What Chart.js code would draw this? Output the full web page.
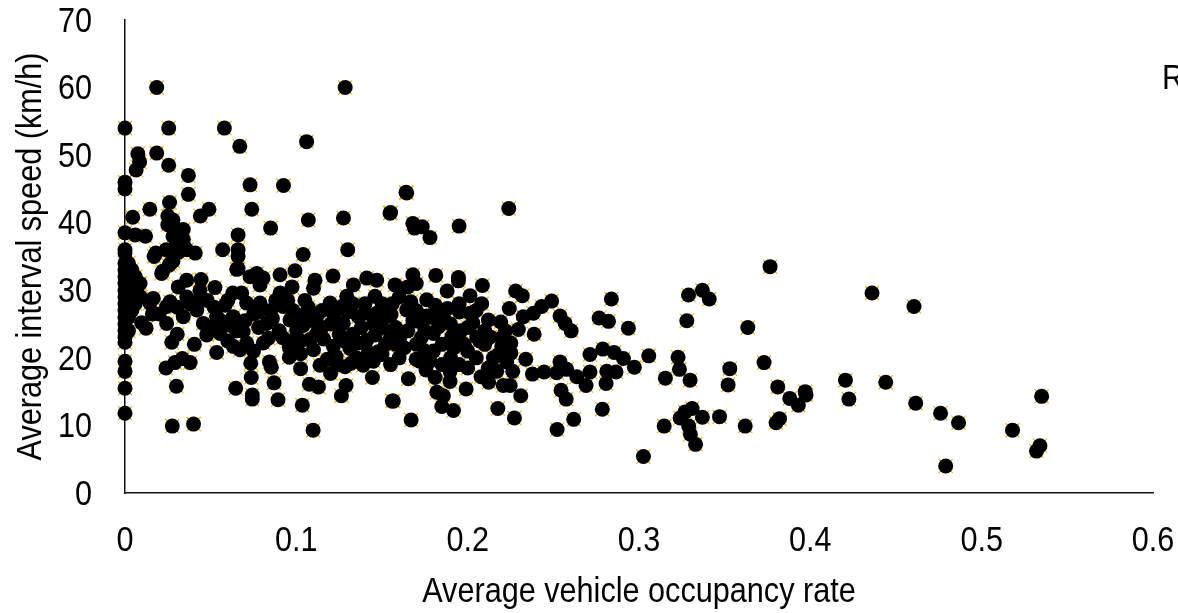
<!DOCTYPE html>
<html><head><meta charset="utf-8">
<style>html,body{margin:0;padding:0;background:#fff;overflow:hidden;width:1178px;height:613px}
#w{position:relative;width:1178px;height:613px;overflow:hidden}
canvas{display:block}
#r{position:absolute;left:1162px;top:57px;font:35px "Liberation Sans",sans-serif;color:#000;line-height:40px;transform:scaleX(.875);transform-origin:left top}</style>
<script src="https://cdn.jsdelivr.net/npm/chart.js@4"></script></head>
<body><div id="w"><canvas id="c" width="1178" height="613"></canvas><div id="r">R</div></div>
<script>
const xTicks=[0,0.1,0.2,0.3,0.4,0.5,0.6];
const yTicks=[0,10,20,30,40,50,60,70];
const xTitle="Average vehicle occupancy rate";
const yTitle="Average interval speed (km/h)";
const upperPoints=[[.0185,60],[.1285,60],[0,54],[.0255,54],[.058,54],[.106,52],[.067,51.3],[.0075,50.2],[.0185,50.3],[.0085,49],[.0255,48.5],[.0065,47.8],[.037,47],[0,46],[0,45],[.073,45.6],[.0925,45.5],[.164,44.5],[.037,44.2],[.026,43],[.049,42],[.0145,42],[.074,42],[.224,42.1],[.155,41.5],[.044,41],[.0045,40.8],[.025,41],[.107,40.4],[.1275,40.7],[.168,39.9],[.169,39.2],[.1735,39.4],[.195,39.5],[.085,39.2],[.034,39],[0,38.5],[.006,38.2],[.012,38],[.028,38],[.066,38.2],[.178,37.8],[.034,37.5],[.0345,36.5],[.036,36],[.13,36],[0,36],[.018,35.5],[.024,36],[0,35.5],[.041,35.5],[.057,36],[.066,36],[.104,35.3],[.017,35],[.028,34.3],[.066,35],[.0265,34],[.066,33.2],[.022,32.8],[.03,39],[.03,37.3],[.032,36.3],[.025,39.7],[.028,40.4],[.031,35.6]];
const axisColumn=[[0,11.8],[0,15.5],[0,18],[0,19.5],[0,22.3],[0,23],[0,24],[0,25],[0,26],[0,27],[0,28],[0,29],[0,30],[0,31],[0,32],[0,33],[0,34],[.002,24],[.002,26],[.002,28],[.002,30],[.002,32],[.002,34],[.004,27],[.004,29],[.004,31],[.004,33],[.006,28],[.006,30],[.006,32],[.008,31],[.009,29]];
const leftCluster=[[.0276,9.9],[.04,10.2],[.1098,9.3],[.03,15.8],[.0646,15.5],[.0743,14.5],[.0743,13.9],[.0893,13.8],[.1035,13],[.156,13.6],[.0737,17.1],[.087,16.3],[.0734,19.2],[.0843,19.4],[.0854,18.6],[.0959,20.1],[.1025,18.4],[.1138,18.9],[.1076,16.1],[.1129,15.7],[.12,17.7],[.129,15.9],[.1263,14.4],[.1444,17.1],[.1284,18.7],[.139,18.9],[.1232,20.2],[.0535,20.8],[.0405,22],[.0273,22.3],[.0305,23.5],[.0239,18.5],[.0292,19.3],[.0335,19.9],[.038,19.3],[.0123,24.4],[.0097,25.2],[.0671,21.2],[.0632,21.7],[.071,22.2],[.0807,22.2],[.0837,22.9],[.11,21.2],[.1025,20.6],[.0652,33.1],[.0214,32.5],[.0257,33.7],[.1214,32.1],[.1109,31.5],[.0992,32.9],[.0905,32.3],[.0769,32.5],[.073,32],[.0806,31.8],[.0788,30.8],[.036,31.5],[.0444,31.6],[.0311,30.5],[.0525,30.4],[.0438,30],[.036,29],[.0681,29.6],[.0629,29.6],[.0584,27.8],[.0165,28.8],[.0088,31],[.0263,28.3],[.0905,29.6],[.0975,30.5],[.11,30.3],[.1197,28.1],[.1333,30.8],[.1411,31.8],[.1469,31.5],[.1576,30.8],[.1459,29.1],[.1294,29.1],[.1265,27.6],[.1362,26.1],[.1274,25.1],[.1553,26.4],[.1469,26.6],[.1411,22.6],[.1477,20.9],[.1313,21.4],[.1216,21.7],[.1119,23.6],[.1002,24.1],[.1025,22.5],[.0924,27.6],[.0963,25.6],[.0788,28.1],[.0827,25.1],[.071,28.1],[.069,23.9],[.0632,26.1],[.0535,26.1],[.0555,23.6],[.0477,23.4],[.0457,25.1],[.0419,27.1],[.034,26.1],[.0243,25.1],[.0243,27.6],[.0146,28.1],[.0068,30],[.0305,27.5],[.038,28],[.048,28.5],[.052,27.5],[.06,28.5],[.075,26.5],[.078,24.5],[.085,27],[.088,28.5],[.095,28.5],[.105,28.5],[.105,26.5],[.11,25.5],[.115,27],[.115,24.5],[.12,25],[.125,23.5],[.133,23.5],[.138,24.5],[.14,28],[.15,28],[.15,24.5],[.155,23],[.145,25],[.133,28],[.135,20],[.145,19.5],[.15,20.5],[.155,19],[.158,22],[.065,24],[.07,25.5],[.075,21],[.09,24],[.095,22.5],[.098,27],[.1,26],[.107,27.5],[.016,26.5],[.02,26.5],[.044,29],[.05,24.5],[.056,25.5],[.06,22.5],[.062,24.8],[.078,26.8],[.086,25.8],[.092,23],[.096,21.5],[.104,24.8],[.108,22.7],[.112,26.2],[.116,22.8],[.122,26.2],[.128,22.5],[.13,26.8],[.136,22.2],[.14,26.6],[.142,20.8],[.146,23.4],[.152,22],[.152,26],[.156,28],[.118,19.8],[.124,19],[.132,19.2]];
const middleCluster=[[.1644,44.4],[.1547,41.4],[.168,32.3],[.1814,32.2],[.1946,31.9],[.1946,31.4],[.2086,30.7],[.188,29.9],[.2014,29.2],[.2082,28],[.228,29.9],[.2319,29.2],[.249,28.4],[.2432,27.6],[.2384,26.6],[.2243,27.3],[.2325,26.1],[.2296,24.2],[.2388,23.5],[.2539,26.2],[.2569,25.1],[.2604,24],[.2767,25.9],[.2822,25.4],[.2938,24.4],[.2839,28.7],[.2121,25.6],[.2193,25.3],[.1761,28.6],[.1668,28.3],[.181,27.8],[.1882,27.3],[.1952,26.8],[.1829,25.9],[.1712,25.4],[.1644,27.1],[.1547,26.3],[.2014,26.6],[.18,23.6],[.1907,23.1],[.2053,23.1],[.2131,23.1],[.1605,23.1],[.2252,22.2],[.2199,21.7],[.2252,20.7],[.2339,19.8],[.2228,19.4],[.2263,18],[.217,18],[.2078,17.2],[.2123,16.4],[.2208,15.9],[.2248,15.9],[.231,14.4],[.1991,15.4],[.1897,18],[.1897,16.5],[.181,17.1],[.1757,18.2],[.1699,19.8],[.1654,16.9],[.1566,13.6],[.167,10.8],[.182,14.9],[.1858,14.4],[.1849,12.8],[.1917,12.2],[.2176,12.5],[.2273,11.1],[.2522,9.4],[.2619,10.9],[.2786,12.4],[.2575,13.9],[.2545,15.2],[.2691,15.9],[.2808,16.2],[.2637,17.2],[.2714,17.9],[.2812,18],[.2866,17.9],[.2973,18.6],[.3057,20.3],[.2909,19.9],[.2855,20.8],[.2789,21.3],[.2714,20.5],[.2539,19.4],[.2578,18.3],[.252,17.8],[.2446,17.9],[.2378,17.6],[.165,24],[.17,22],[.175,24],[.18,21],[.185,22],[.19,20],[.195,19],[.2,21],[.205,20],[.21,22],[.215,20],[.16,20],[.17,27],[.178,26],[.19,25],[.2,24.5],[.21,24],[.22,23],[.165,30.5],[.17,31],[.16,29],[.175,21],[.185,19],[.2,18.5],[.195,28],[.205,27],[.158,24.5],[.163,21.5],[.168,25.5],[.173,23],[.176,26.2],[.183,24.6],[.186,26],[.193,22.5],[.196,24],[.198,22],[.203,25.2],[.207,22.5],[.172,19.5],[.178,19.5],[.192,21.5],[.212,18.5],[.218,20.5],[.222,24]];
const rightTail=[[.3147,9.9],[.3026,5.4],[.3154,17],[.3228,20.1],[.3236,18.3],[.3279,25.5],[.3289,29.3],[.3298,16.7],[.324,11.1],[.3269,12],[.333,7.2],[.33,8.7],[.329,9.9],[.331,12.5],[.337,11.2],[.347,11.3],[.362,9.9],[.352,16],[.353,18.4],[.337,30],[.341,28.7],[.3635,24.5],[.3765,33.5],[.373,19.3],[.381,15.7],[.38,10.4],[.382,11],[.388,14],[.393,13],[.397,15],[.3975,14.5],[.4205,16.7],[.4225,13.9],[.436,29.6],[.444,16.4],[.4605,27.6],[.4615,13.3],[.476,11.8],[.479,4],[.4865,10.4],[.518,9.3],[.532,6.2],[.534,7],[.535,14.3]];

const FONT='"Liberation Sans",sans-serif';
const SQUEEZE=0.875;
const TEXT_DROP=2;
const canvas=document.getElementById('c');
const ctx=canvas.getContext('2d');
const baseFillText=ctx.fillText.bind(ctx);
ctx.fillText=function(t,x,y,m){ctx.save();ctx.translate(x,y);ctx.scale(SQUEEZE,1);baseFillText(t,0,TEXT_DROP,m);ctx.restore();};
const pts=[...upperPoints,...axisColumn,...leftCluster,...middleCluster,...rightTail].map(p=>({x:p[0],y:p[1]}));
new Chart(canvas,{
 type:'scatter',
 data:{datasets:[
  {data:pts,pointStyle:'circle',pointRadius:7.5,pointHoverRadius:7.5,backgroundColor:'#000',borderWidth:0,clip:false},
  {data:pts,pointStyle:'crossRot',pointRadius:10,pointHoverRadius:10,backgroundColor:'#f5b800',borderColor:'#f5b800',borderWidth:1.2,clip:false}
 ]},
 options:{
  responsive:false,animation:false,
  layout:{padding:{top:20,right:25,left:0,bottom:0}},
  plugins:{legend:{display:false},title:{display:false},tooltip:{enabled:false}},
  scales:{
   x:{type:'linear',min:0,max:0.6,afterBuildTicks:s=>{s.ticks=xTicks.map(v=>({value:v}))},
    afterFit:s=>{s.height=120;s.paddingLeft=0;s.paddingRight=0},
    grid:{display:true,drawOnChartArea:false,drawTicks:false,tickLength:0},
    border:{display:true,color:'#111',width:1.5},
    ticks:{color:'#000',padding:25,maxRotation:0,font:{family:FONT,size:35},callback:v=>String(v)},
    title:{display:true,text:xTitle,color:'#000',font:{family:FONT,size:35},padding:{top:0,bottom:2}}},
   y:{type:'linear',min:0,max:70,afterBuildTicks:s=>{s.ticks=yTicks.map(v=>({value:v}))},
    afterFit:s=>{s.width=125;s.paddingTop=0;s.paddingBottom=0},
    grid:{display:true,drawOnChartArea:false,drawTicks:false,tickLength:0},
    border:{display:true,color:'#111',width:1.5},
    ticks:{color:'#000',padding:33,font:{family:FONT,size:35}},
    title:{display:true,text:yTitle,color:'#000',font:{family:FONT,size:35},padding:{top:8,bottom:0}}}
  }
 }
});
</script></body></html>
